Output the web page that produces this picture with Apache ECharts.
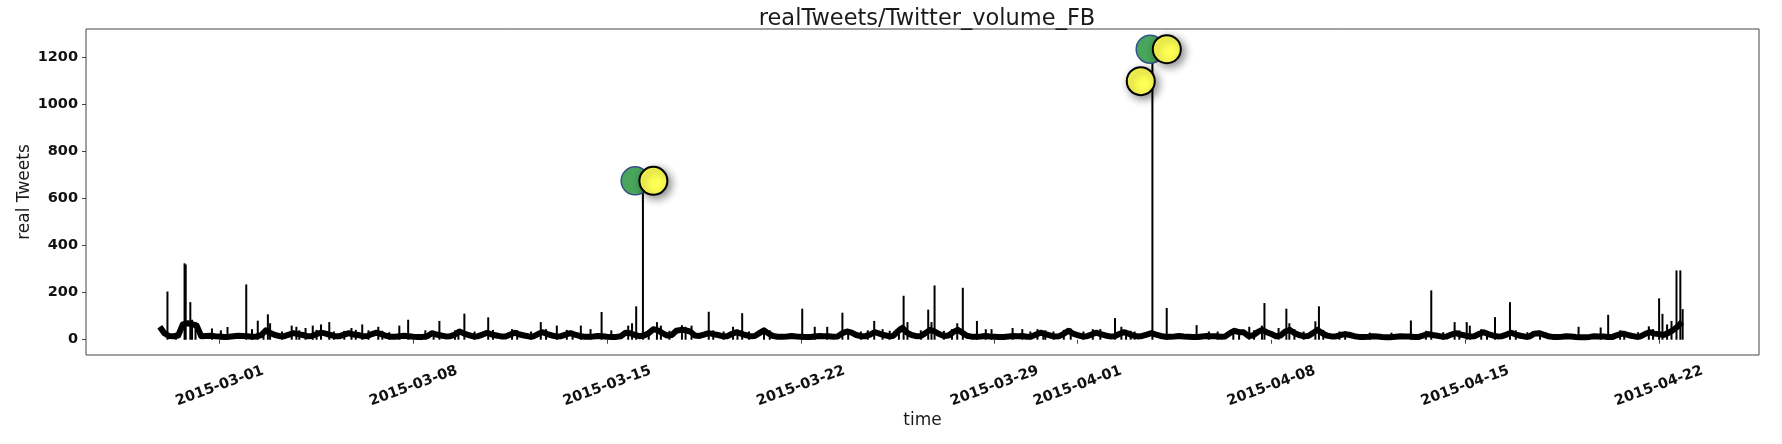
<!DOCTYPE html>
<html>
<head>
<meta charset="utf-8">
<script src="https://cdn.jsdelivr.net/npm/echarts@6/dist/echarts.min.js"></script>
<style>
html,body{margin:0;padding:0;background:#fff;}
#chart{width:1782px;height:444px;}
</style>
</head>
<body>
<div id="chart"></div>
<script>
// ---- DATA ----
const titleText = 'realTweets/Twitter_volume_FB';
const xTickDates = ['2015-03-01','2015-03-08','2015-03-15','2015-03-22','2015-03-29','2015-04-01','2015-04-08','2015-04-15','2015-04-22'];
const yTickValues = [0, 200, 400, 600, 800, 1000, 1200];

// baseline level, one value every 4 hours (UTC) from 2015-02-26 20:00
const baseStart = '2015-02-26T20:00:00Z';
const baseStepHours = 4;
const baseValues = [
  55,                       // Feb 26 20h
  28, 16, 15, 18, 65, 70,   // Feb 27  (00 04 08 12 16 20)
  66, 60, 15, 16, 17, 15,   // Feb 28
  14, 12, 13, 15, 17, 16,   // Mar 01
  15, 13, 14, 20, 40, 28,   // Mar 02
  20, 15, 15, 22, 28, 24,   // Mar 03
  20, 15, 16, 24, 30, 26,   // Mar 04
  20, 15, 15, 22, 28, 22,   // Mar 05
  20, 15, 16, 24, 30, 24,   // Mar 06
  17, 13, 13, 15, 17, 15,   // Mar 07
  13, 12, 12, 15, 28, 22,   // Mar 08
  18, 14, 15, 22, 35, 26,   // Mar 09
  20, 14, 15, 22, 30, 22,   // Mar 10
  18, 14, 14, 22, 30, 22,   // Mar 11
  18, 14, 14, 24, 32, 24,   // Mar 12
  18, 14, 15, 22, 28, 22,   // Mar 13
  16, 13, 13, 14, 16, 15,   // Mar 14
  13, 12, 12, 15, 30, 28,   // Mar 15
  20, 15, 18, 28, 45, 40,   // Mar 16
  28, 18, 20, 38, 42, 40,   // Mar 17
  35, 18, 16, 22, 28, 24,   // Mar 18
  20, 15, 15, 24, 32, 26,   // Mar 19
  20, 15, 16, 28, 40, 26,   // Mar 20
  16, 13, 13, 14, 16, 14,   // Mar 21
  13, 12, 12, 14, 16, 15,   // Mar 22
  15, 13, 14, 28, 35, 30,   // Mar 23
  20, 15, 15, 22, 32, 26,   // Mar 24
  20, 15, 16, 35, 50, 30,   // Mar 25
  20, 15, 16, 28, 42, 35,   // Mar 26
  24, 16, 18, 32, 42, 30,   // Mar 27
  17, 13, 13, 14, 16, 14,   // Mar 28
  13, 12, 12, 14, 16, 15,   // Mar 29
  16, 13, 14, 22, 30, 24,   // Mar 30
  18, 14, 15, 25, 38, 26,   // Mar 31
  20, 14, 15, 22, 30, 24,   // Apr 01
  18, 14, 15, 24, 32, 26,   // Apr 02
  18, 14, 16, 22, 28, 22,   // Apr 03
  16, 13, 13, 14, 16, 14,   // Apr 04
  13, 12, 12, 14, 16, 15,   // Apr 05
  15, 13, 14, 28, 38, 32,   // Apr 06
  32, 16, 18, 32, 42, 32,   // Apr 07
  24, 15, 18, 35, 42, 28,   // Apr 08
  20, 15, 16, 28, 42, 28,   // Apr 09
  18, 14, 14, 20, 24, 20,   // Apr 10
  15, 12, 12, 13, 15, 14,   // Apr 11
  12, 11, 11, 13, 15, 14,   // Apr 12
  14, 12, 12, 18, 24, 20,   // Apr 13
  17, 13, 14, 22, 28, 22,   // Apr 14
  18, 14, 15, 24, 32, 24,   // Apr 15
  18, 14, 15, 22, 30, 22,   // Apr 16
  17, 13, 14, 26, 28, 22,   // Apr 17
  15, 12, 12, 13, 15, 14,   // Apr 18
  12, 11, 11, 12, 15, 14,   // Apr 19
  14, 12, 12, 20, 26, 22,   // Apr 20
  17, 13, 14, 24, 32, 26,   // Apr 21
  24, 20, 28, 40, 55, 75    // Apr 22
];

// short bursts (UTC time, tweets)
const spikes = [
  ['2015-02-27T02:40', 205], ['2015-02-27T17:30', 325], ['2015-02-27T18:30', 320],
  ['2015-02-27T22:30', 160], ['2015-02-28T00:00', 85], ['2015-02-28T03:00', 75],
  ['2015-02-28T17:15', 48], ['2015-03-01T01:00', 40], ['2015-03-01T06:45', 54],
  ['2015-03-01T23:00', 235], ['2015-03-02T04:00', 45], ['2015-03-02T09:00', 81],
  ['2015-03-02T17:45', 108], ['2015-03-02T19:40', 70], ['2015-03-03T14:25', 60],
  ['2015-03-03T18:30', 55], ['2015-03-04T02:25', 50], ['2015-03-04T08:40', 60],
  ['2015-03-04T15:50', 65], ['2015-03-04T23:00', 75], ['2015-03-05T18:15', 50],
  ['2015-03-06T03:35', 65], ['2015-03-06T17:30', 55], ['2015-03-07T11:45', 60],
  ['2015-03-07T19:25', 85], ['2015-03-08T10:20', 40], ['2015-03-08T17:30', 32],
  ['2015-03-08T22:30', 80], ['2015-03-09T20:10', 111], ['2015-03-10T16:50', 95],
  ['2015-03-11T13:30', 45], ['2015-03-12T14:25', 75], ['2015-03-13T04:20', 60],
  ['2015-03-14T01:10', 60], ['2015-03-14T09:35', 45], ['2015-03-14T19:10', 118],
  ['2015-03-15T03:35', 40], ['2015-03-15T18:15', 60], ['2015-03-15T21:35', 70],
  ['2015-03-16T01:10', 142], ['2015-03-16T07:00', 672], ['2015-03-16T19:10', 75],
  ['2015-03-16T22:35', 60], ['2015-03-17T16:50', 62], ['2015-03-18T01:10', 60],
  ['2015-03-18T16:05', 119], ['2015-03-19T13:10', 55], ['2015-03-19T21:05', 113],
  ['2015-03-22T01:10', 132], ['2015-03-22T12:00', 55], ['2015-03-22T22:50', 55],
  ['2015-03-23T12:00', 115], ['2015-03-24T15:35', 80], ['2015-03-24T22:50', 45],
  ['2015-03-25T17:05', 187], ['2015-03-25T20:25', 75], ['2015-03-26T14:25', 128],
  ['2015-03-26T17:15', 75], ['2015-03-26T19:55', 231], ['2015-03-27T15:35', 70],
  ['2015-03-27T20:25', 221], ['2015-03-28T08:40', 80], ['2015-03-28T16:20', 45],
  ['2015-03-28T21:20', 45], ['2015-03-29T15:35', 50], ['2015-03-30T00:00', 45],
  ['2015-03-30T13:10', 45], ['2015-03-30T18:15', 35], ['2015-04-01T13:10', 45],
  ['2015-04-01T19:40', 45], ['2015-04-02T08:25', 92], ['2015-04-02T13:55', 55],
  ['2015-04-03T01:25', 35], ['2015-04-03T16:50', 1245], ['2015-04-04T05:15', 135],
  ['2015-04-05T07:10', 62], ['2015-04-05T17:45', 35], ['2015-04-06T01:25', 35],
  ['2015-04-07T04:50', 55], ['2015-04-07T15:50', 60], ['2015-04-07T18:00', 156],
  ['2015-04-08T06:15', 50], ['2015-04-08T13:00', 132], ['2015-04-08T15:35', 70],
  ['2015-04-09T14:10', 78], ['2015-04-09T17:15', 142], ['2015-04-10T11:00', 35],
  ['2015-04-11T13:25', 30], ['2015-04-12T08:10', 30], ['2015-04-13T01:00', 82],
  ['2015-04-13T18:40', 210], ['2015-04-14T14:55', 75], ['2015-04-15T01:25', 75],
  ['2015-04-15T04:05', 60], ['2015-04-16T01:55', 96], ['2015-04-16T14:55', 160],
  ['2015-04-19T02:25', 55], ['2015-04-19T21:35', 52], ['2015-04-20T04:05', 106],
  ['2015-04-20T14:25', 40], ['2015-04-21T15:20', 57], ['2015-04-22T00:15', 176],
  ['2015-04-22T03:10', 110], ['2015-04-22T07:10', 65], ['2015-04-22T11:00', 80],
  ['2015-04-22T15:20', 295], ['2015-04-22T18:40', 295], ['2015-04-22T20:40', 130]
];

// small flickers on top of the baseline (UTC time, tweets)
const minorSpikes = [
  ['2015-02-27T10:00', 30], ['2015-03-02T14:00', 38], ['2015-03-03T06:00', 35], ['2015-03-03T21:00', 40],
  ['2015-03-04T12:00', 42], ['2015-03-05T03:00', 35], ['2015-03-05T12:00', 38], ['2015-03-05T22:00', 42],
  ['2015-03-06T09:00', 40], ['2015-03-06T21:00', 38], ['2015-03-07T03:00', 32], ['2015-03-09T12:00', 40],
  ['2015-03-09T15:00', 45], ['2015-03-10T05:00', 35], ['2015-03-10T21:00', 42], ['2015-03-11T18:00', 40],
  ['2015-03-12T06:00', 35], ['2015-03-12T19:00', 45], ['2015-03-13T13:00', 42], ['2015-03-13T18:00', 38],
  ['2015-03-16T12:00', 40], ['2015-03-17T06:00', 38], ['2015-03-17T20:00', 55], ['2015-03-18T20:00', 40],
  ['2015-03-19T05:00', 35], ['2015-03-19T17:00', 42], ['2015-03-20T03:00', 35], ['2015-03-20T16:00', 50],
  ['2015-03-20T21:00', 40], ['2015-03-23T17:00', 45], ['2015-03-24T04:00', 35], ['2015-03-24T10:00', 40],
  ['2015-03-25T05:00', 38], ['2015-03-25T13:00', 55], ['2015-03-26T08:00', 40], ['2015-03-27T04:00', 38],
  ['2015-03-27T11:00', 45], ['2015-03-30T07:00', 35], ['2015-03-30T20:00', 40], ['2015-03-31T03:00', 35],
  ['2015-03-31T12:00', 42], ['2015-03-31T18:00', 48], ['2015-04-01T05:00', 35], ['2015-04-02T18:00', 42],
  ['2015-04-02T22:00', 38], ['2015-04-06T15:00', 45], ['2015-04-06T20:00', 42], ['2015-04-07T09:00', 40],
  ['2015-04-08T20:00', 45], ['2015-04-09T04:00', 35], ['2015-04-09T21:00', 42], ['2015-04-10T16:00', 35],
  ['2015-04-13T14:00', 38], ['2015-04-14T05:00', 32], ['2015-04-14T19:00', 40], ['2015-04-15T14:00', 45],
  ['2015-04-15T19:00', 38], ['2015-04-16T20:00', 40], ['2015-04-17T06:00', 32], ['2015-04-17T17:00', 38],
  ['2015-04-20T18:00', 38], ['2015-04-21T06:00', 32], ['2015-04-21T19:00', 45]
];

// anomaly markers
const labeledAnomalies = [['2015-03-16T00:15', 676], ['2015-04-03T14:55', 1236]];
const detectedAnomalies = [['2015-03-16T16:05', 676], ['2015-04-04T05:20', 1236], ['2015-04-03T06:45', 1100]];

// ---- BUILD ----
const HOUR = 3600 * 1000;
const t = s => Date.parse(s + ':00Z');
const t0 = Date.parse(baseStart);
const baseData = baseValues.map((v, i) => [t0 + i * baseStepHours * HOUR, v]);
const spikeData = spikes.concat(minorSpikes).map(d => [t(d[0]), d[1]]);
const greenData = labeledAnomalies.map(d => [t(d[0]), d[1]]);
const yellowData = detectedAnomalies.map(d => [t(d[0]), d[1]]);
const xTicks = xTickDates.map(s => Date.parse(s + 'T00:00:00Z'));
const pad = n => (n < 10 ? '0' : '') + n;
const fmtDate = v => { const d = new Date(v); return d.getUTCFullYear() + '-' + pad(d.getUTCMonth() + 1) + '-' + pad(d.getUTCDate()); };

const FONT = 'DejaVu Sans';
const chart = echarts.init(document.getElementById('chart'), null, {renderer: 'canvas'});
chart.setOption({
  animation: false,
  backgroundColor: '#ffffff',
  title: {
    text: titleText,
    left: 922, top: 3, textAlign: 'center',
    textStyle: {fontFamily: FONT, fontSize: 22.5, fontWeight: 'normal', color: '#1a1a1a'}
  },
  grid: {left: 86, right: 23, top: 29, bottom: 89, show: true, borderColor: '#444', borderWidth: 1, backgroundColor: 'transparent'},
  xAxis: {
    type: 'value',
    min: Date.parse('2015-02-24T04:02:00Z'),
    max: Date.parse('2015-04-25T14:53:00Z'),
    name: 'time', nameLocation: 'middle', nameGap: 57, nameMoveOverlap: false,
    nameTextStyle: {fontFamily: FONT, fontSize: 17, color: '#1a1a1a'},
    axisLine: {show: false},
    axisTick: {show: true, length: 4, lineStyle: {color: '#444'}, customValues: xTicks},
    axisLabel: {
      customValues: xTicks, formatter: fmtDate, rotate: 20, align: 'center', verticalAlign: 'middle', margin: 31,
      fontFamily: FONT, fontSize: 14.5, fontWeight: 'bold', color: '#111'
    },
    splitLine: {show: false}
  },
  yAxis: {
    type: 'value',
    min: -65, max: 1322,
    name: 'real Tweets', nameLocation: 'middle', nameGap: 53, nameMoveOverlap: false,
    nameTextStyle: {fontFamily: FONT, fontSize: 17, color: '#1a1a1a'},
    axisLine: {show: false},
    axisTick: {show: true, length: 4, lineStyle: {color: '#444'}, customValues: yTickValues},
    axisLabel: {customValues: yTickValues, formatter: v => String(v), margin: 8, fontFamily: FONT, fontSize: 14.5, fontWeight: 'bold', color: '#111'},
    splitLine: {show: false}
  },
  series: [
    {
      type: 'bar', data: spikeData, barWidth: 2, itemStyle: {color: '#000'}, z: 2, silent: true
    },
    {
      type: 'line', data: baseData, showSymbol: false, symbol: 'none',
      lineStyle: {color: '#000', width: 6, join: 'round'}, z: 3, silent: true
    },
    {
      type: 'scatter', data: greenData, symbol: 'circle', symbolSize: 28,
      itemStyle: {color: '#48a55b', borderColor: '#33508c', borderWidth: 1.5, opacity: 1}, z: 5
    },
    {
      type: 'scatter', data: yellowData, symbol: 'circle', symbolSize: 28,
      itemStyle: {color: '#ffff55', borderColor: '#000', borderWidth: 2, opacity: 1,
        shadowColor: 'rgba(0,0,0,0.45)', shadowBlur: 8, shadowOffsetX: 3, shadowOffsetY: 3}, z: 6
    }
  ]
});
</script>
</body>
</html>
